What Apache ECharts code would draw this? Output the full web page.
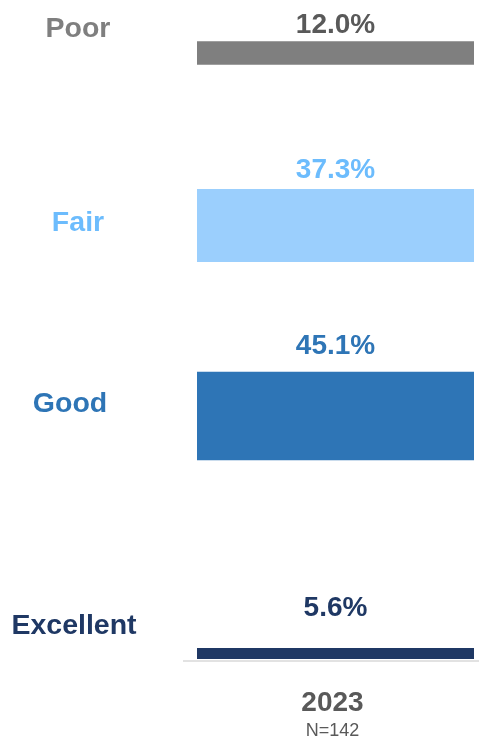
<!DOCTYPE html>
<html>
<head>
<meta charset="utf-8">
<script src="https://cdn.jsdelivr.net/npm/echarts@6/dist/echarts.min.js"></script>
<style>
  html, body { margin: 0; padding: 0; background: #fff; }
  #chart { width: 479px; height: 740px; }
</style>
</head>
<body>
<div id="chart"></div>
<script>
// data
var years = ['2023'];
var sampleSize = 142;
var ratings = ['Excellent', 'Good', 'Fair', 'Poor'];
var shares = [5.6, 45.1, 37.3, 12.0];
// blank space (in %-units) under each segment, as the original spreads them out
var spacers = [0, 95.8, 55.9, 63.3];

var barColors = ['#1f3864', '#2e75b6', '#9bcffd', '#7f7f7f'];
var valueColors = ['#1f3864', '#2e75b6', '#6cbcfd', '#595959'];
var nameColors = ['#1f3864', '#2e75b6', '#6cbcfd', '#7f7f7f'];
var labelDist = [26, 11, 5, 2];
var namePos = [[74, 626], [70, 404], [78, 223], [78, 29]];

var font = '"Liberation Sans", Arial, sans-serif';
var chart = echarts.init(document.getElementById('chart'));

var series = [];
ratings.forEach(function (r, i) {
  series.push({
    name: 'gap' + i,
    type: 'bar',
    stack: 'total',
    silent: true,
    barWidth: 277,
    itemStyle: { color: 'transparent' },
    data: [spacers[i]]
  });
  series.push({
    name: r,
    type: 'bar',
    stack: 'total',
    barWidth: 277,
    itemStyle: { color: barColors[i] },
    label: {
      show: true,
      position: 'top',
      distance: labelDist[i],
      formatter: function (p) { return p.value.toFixed(1) + '%'; },
      fontFamily: font,
      fontSize: 28,
      fontWeight: 'bold',
      color: valueColors[i]
    },
    data: [shares[i]]
  });
});

var graphics = ratings.map(function (r, i) {
  return {
    type: 'text',
    x: namePos[i][0],
    y: namePos[i][1],
    style: {
      text: r,
      fontFamily: font,
      fontSize: 28.5,
      fontWeight: 'bold',
      fill: nameColors[i],
      textAlign: 'center',
      textVerticalAlign: 'middle'
    }
  };
});
// baseline
graphics.push({
  type: 'line',
  shape: { x1: 183, y1: 661, x2: 479, y2: 661 },
  style: { stroke: '#d9d9d9', lineWidth: 1.5 }
});

chart.setOption({
  animation: false,
  grid: { left: 192, right: 0, top: 41.3, bottom: 79.3 },
  xAxis: {
    type: 'category',
    data: years,
    axisLine: { show: false },
    axisTick: { show: false },
    axisLabel: {
      margin: 29,
      formatter: function (v) { return '{y|' + v + '}\n{n|N=' + sampleSize + '}'; },
      rich: {
        y: { fontFamily: font, fontSize: 28, fontWeight: 'bold', color: '#595959', lineHeight: 30, padding: [0, 6, 0, 0] },
        n: { fontFamily: font, fontSize: 18, color: '#595959', lineHeight: 26, padding: [0, 6, 0, 0] }
      }
    }
  },
  yAxis: {
    type: 'value',
    min: 0,
    max: 315,
    show: false
  },
  series: series,
  graphic: graphics
});
</script>
</body>
</html>
